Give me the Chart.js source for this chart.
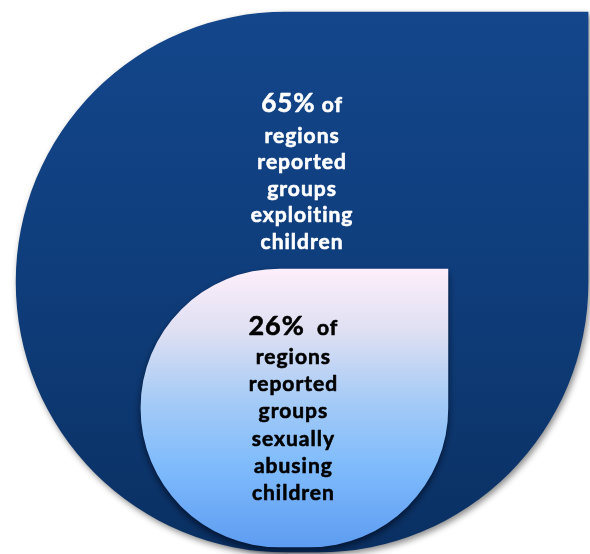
<!DOCTYPE html>
<html><head><meta charset="utf-8">
<script src="https://cdn.jsdelivr.net/npm/chart.js@4/dist/chart.umd.min.js"></script>
<style>html,body{margin:0;padding:0;background:#fff;}canvas{display:block;}</style>
</head><body>
<canvas id="c" width="590" height="554"></canvas>
<script>
// ---- data ----
const categories = ["Groups exploiting children", "Groups sexually abusing children"];
const percentValues = [65, 26];
const headSuffix = [" of", "  of"];
const captionLines = [
  ["regions", "reported", "groups", "exploiting", "children"],
  ["regions", "reported", "groups", "sexually", "abusing", "children"]
];

// ---- layout (axis units 0-100, widths in px) ----
const layout = {
  centers: [51.2, 49.9],
  spans: [[0.36, 97.83], [1.26, 51.44]],
  widths: [572, 307],
  text: [
    {color: '#ffffff', big: 26, size: 21, first: 100, second: 131, step: 26.4, dx: 0},
    {color: '#000000', big: 27, size: 21, first: 66, second: 95, step: 27.2, dx: -1}
  ]
};

function gradientFill(i, stops, fallback) {
  return function (c) {
    const chart = c.chart;
    if (!chart.chartArea) return fallback;
    const y = chart.scales.y;
    const top = y.getPixelForValue(layout.spans[i][1]);
    const bot = y.getPixelForValue(layout.spans[i][0]);
    const g = chart.ctx.createLinearGradient(0, top, 0, bot);
    stops.forEach(s => g.addColorStop(s[0], s[1]));
    return g;
  };
}

const shadowPlugin = {
  id: 'shadow',
  beforeDatasetDraw(chart, args) {
    const ctx = chart.ctx;
    ctx.save();
    if (args.index === 0) {
      ctx.shadowColor = 'rgba(0,0,0,0.45)'; ctx.shadowBlur = 6; ctx.shadowOffsetX = 2; ctx.shadowOffsetY = 3;
    } else {
      ctx.shadowColor = 'rgba(2,18,45,0.9)'; ctx.shadowBlur = 7; ctx.shadowOffsetX = 0; ctx.shadowOffsetY = 4;
    }
  },
  afterDatasetDraw(chart) { chart.ctx.restore(); }
};

const textPlugin = {
  id: 'captions',
  afterDatasetsDraw(chart) {
    const ctx = chart.ctx;
    chart.data.datasets.forEach((ds, i) => {
      const el = chart.getDatasetMeta(i).data[0];
      const L = layout.text[i];
      const cx = el.x + L.dx;
      ctx.save();
      ctx.fillStyle = L.color;
      ctx.strokeStyle = L.color;
      ctx.lineWidth = 0.6;
      ctx.lineJoin = 'round';
      ctx.textBaseline = 'alphabetic';
      try { ctx.letterSpacing = '1px'; } catch (e) {}
      const put = (t, x, y) => { ctx.fillText(t, x, y); ctx.strokeText(t, x, y); };
      const big = `bold ${L.big}px Lato`, small = `bold ${L.size}px Lato`;
      const head = percentValues[i] + '%';
      ctx.font = big; const w1 = ctx.measureText(head).width;
      ctx.font = small; const w2 = ctx.measureText(headSuffix[i]).width;
      const x0 = cx - (w1 + w2) / 2;
      ctx.textAlign = 'left';
      ctx.font = big; put(head, x0, el.y + L.first);
      ctx.font = small; put(headSuffix[i], x0 + w1, el.y + L.first);
      ctx.textAlign = 'center';
      captionLines[i].forEach((line, k) => put(line, cx, el.y + L.second + k * L.step));
      ctx.restore();
    });
  }
};

const radius = {topLeft: 9999, topRight: 0, bottomLeft: 9999, bottomRight: 9999};

new Chart(document.getElementById('c'), {
  type: 'bar',
  data: {
    datasets: [
      {
        label: categories[0],
        data: [{x: layout.centers[0], y: layout.spans[0]}],
        stack: 'shapes',
        order: 2,
        barThickness: layout.widths[0],
        borderRadius: radius,
        borderSkipped: false,
        borderWidth: 0,
        backgroundColor: gradientFill(0, [[0, '#13468b'], [0.5, '#0f3d7b'], [1, '#0a3062']], '#10407f')
      },
      {
        label: categories[1],
        data: [{x: layout.centers[1], y: layout.spans[1]}],
        stack: 'shapes',
        order: 1,
        barThickness: layout.widths[1],
        borderRadius: radius,
        borderSkipped: false,
        borderWidth: 0,
        backgroundColor: gradientFill(1, [[0, '#fdeefb'], [0.22, '#dfe0f2'], [0.47, '#a6cbf6'], [0.7, '#80bcfc'], [1, '#5e9cf1']], '#9cc8f6')
      }
    ]
  },
  options: {
    responsive: false,
    animation: false,
    devicePixelRatio: 1,
    layout: {padding: 0},
    plugins: {legend: {display: false}, tooltip: {enabled: false}},
    scales: {
      x: {type: 'linear', min: 0, max: 100, offset: false, display: false},
      y: {type: 'linear', min: 0, max: 100, stacked: false, display: false}
    }
  },
  plugins: [shadowPlugin, textPlugin]
});
</script>
</body></html>
